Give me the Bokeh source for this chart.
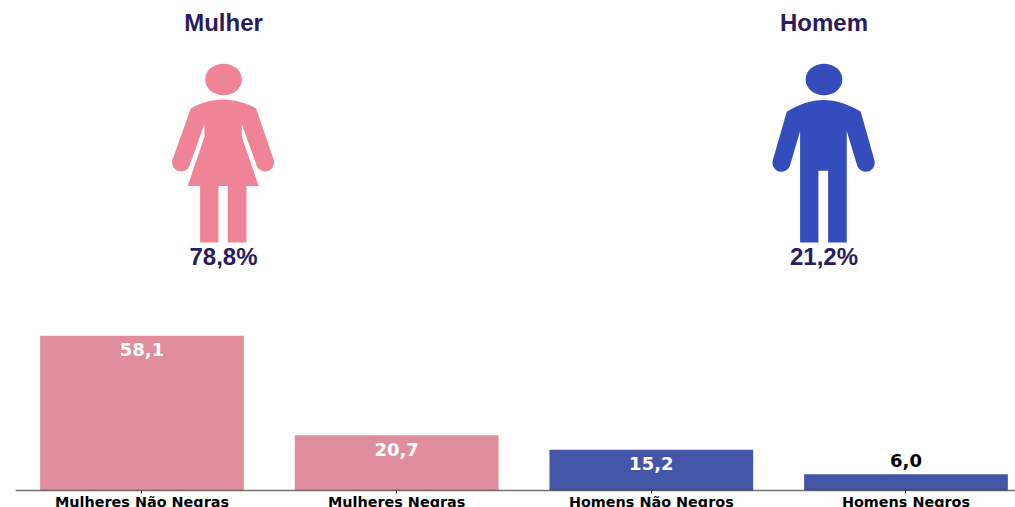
from bokeh.plotting import figure
from bokeh.models import Range1d, LinearAxis, FixedTicker, ColumnDataSource
from bokeh.core.properties import value
from bokeh.embed import file_html
from bokeh.resources import INLINE
import math

categories = ["Mulheres Não Negras", "Mulheres Negras", "Homens Não Negros", "Homens Negros"]
values = [58.1, 20.7, 15.2, 6.0]
value_labels = ["58,1", "20,7", "15,2", "6,0"]
groups = ["Mulher", "Homem"]
group_shares = ["78,8%", "21,2%"]

PINK_BAR, BLUE_BAR = "#E08E9E", "#4556A8"
PINK_ICON, BLUE_ICON = "#F08497", "#344CBC"
INK = "#2A1B5B"

W, H = 1015, 507
p = figure(width=W, height=H, output_backend="svg", toolbar_location=None,
           x_range=Range1d(-0.4967, 3.4300), y_range=Range1d(-6.5, 184.1),
           min_border_left=15, min_border_right=0, min_border_top=0, min_border_bottom=0,
           x_axis_location=None, y_axis_location=None, outline_line_color=None)
p.grid.visible = False
p.background_fill_color = "white"
p.border_fill_color = "white"
p.extra_x_ranges["px"] = Range1d(15, 1015)
p.extra_y_ranges["px"] = Range1d(507, 0)

idx = list(range(len(categories)))
src = ColumnDataSource(dict(
    x=idx, top=values, text=value_labels,
    color=[PINK_BAR, PINK_BAR, BLUE_BAR, BLUE_BAR],
    tcolor=["white", "white", "white", "black"],
    off=[14, 14, 14, -14],
))
p.vbar(x="x", top="top", bottom=0, width=0.8, fill_color="color", line_color=None, source=src)
p.text(x="x", y="top", text="text", y_offset="off", text_color="tcolor",
       text_font=value("DejaVu Sans"), text_font_style="bold", text_font_size="18px",
       text_align="center", text_baseline="middle", source=src)

axis = LinearAxis(fixed_location=0, ticker=FixedTicker(ticks=idx),
                  major_label_overrides={i: c for i, c in zip(idx, categories)})
axis.major_label_text_font = "DejaVu Sans"
axis.major_label_text_font_style = "bold"
axis.major_label_text_font_size = "14.4px"
axis.major_label_text_color = "black"
axis.major_label_standoff = 1
axis.axis_line_color = "black"
axis.axis_line_alpha = 0.55
axis.axis_line_width = 1.6
axis.major_tick_line_color = "black"
axis.major_tick_line_width = 1
axis.major_tick_in = 0
axis.major_tick_out = 3
axis.minor_tick_line_color = None
p.add_layout(axis, "below")


def arc(cx, cy, r, a0, a1, n=14):
    return [(cx + r * math.cos(math.radians(a0 + (a1 - a0) * i / n)),
             cy + r * math.sin(math.radians(a0 + (a1 - a0) * i / n))) for i in range(n + 1)]


def quad(a, c, b, n=16):
    out = []
    for i in range(n + 1):
        t = i / n
        out.append(((1 - t) ** 2 * a[0] + 2 * t * (1 - t) * c[0] + t ** 2 * b[0],
                    (1 - t) ** 2 * a[1] + 2 * t * (1 - t) * c[1] + t ** 2 * b[1]))
    return out


# outlines in the coordinates of a 3x crop of the icon
woman = (quad((122, 325), (218, 272), (318, 325))
         + arc(345, 487, 27, -20, 160)
         + [(275, 372), (275, 410), (326, 558), (289, 558), (289, 727), (233, 727), (233, 558),
            (205, 558), (205, 727), (150, 727), (150, 558), (113, 558), (163, 410), (163, 372)]
         + arc(93, 487, 27, 20, 200))
man = (quad((110, 335), (220, 265), (332, 335))
       + arc(347, 488, 27, -16, 164)
       + [(290, 393), (290, 727), (234, 727), (234, 512), (205, 512), (205, 727), (150, 727), (150, 393)]
       + arc(94, 488, 27, 16, 196))

for (shape, ox, color, cx, name, share) in [(woman, 149.6, PINK_ICON, 223, groups[0], group_shares[0]),
                                            (man, 749.6, BLUE_ICON, 823.5, groups[1], group_shares[1])]:
    p.patch([ox + a / 3 for a, b in shape], [b / 3 - 0.4 for a, b in shape], fill_color=color, line_color=None,
            x_range_name="px", y_range_name="px")
    p.ellipse(x=[cx], y=[79], width=36.8, height=31.6, fill_color=color, line_color=None,
              x_range_name="px", y_range_name="px")
    p.text(x=[cx], y=[22], text=[name], text_color=INK, text_font=value("Liberation Sans"),
           text_font_style="bold", text_font_size="24px", text_align="center", text_baseline="middle",
           x_range_name="px", y_range_name="px")
    p.text(x=[cx], y=[256], text=[share], text_color=INK, text_font=value("Liberation Sans"),
           text_font_style="bold", text_font_size="24px", text_align="center", text_baseline="middle",
           x_range_name="px", y_range_name="px")

open("out.html", "w").write(file_html(p, INLINE))
